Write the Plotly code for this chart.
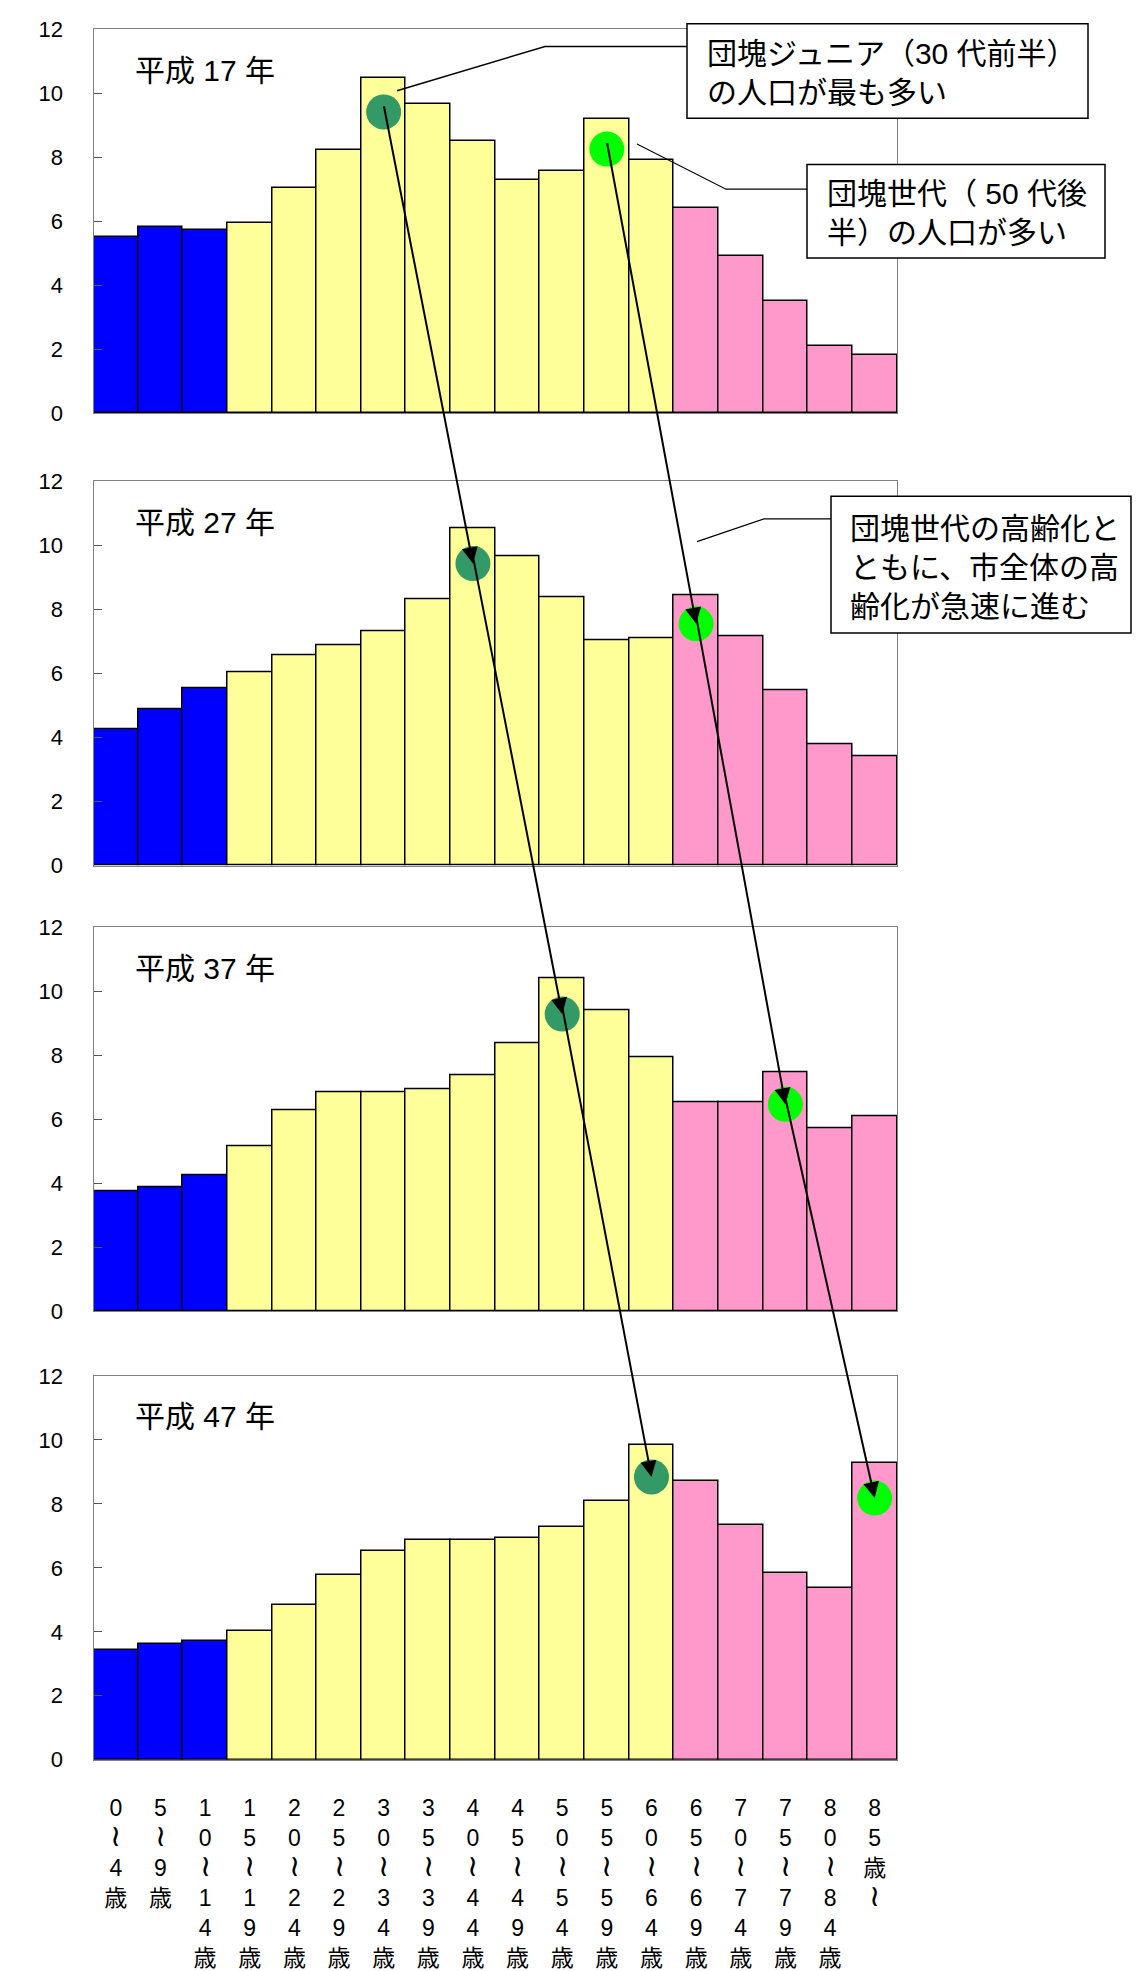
import plotly.graph_objects as go

# ---------------- data ----------------
ages = ["0～4歳", "5～9歳", "10～14歳", "15～19歳", "20～24歳", "25～29歳",
        "30～34歳", "35～39歳", "40～44歳", "45～49歳", "50～54歳", "55～59歳",
        "60～64歳", "65～69歳", "70～74歳", "75～79歳", "80～84歳", "85歳～"]
years = ["平成 17 年", "平成 27 年", "平成 37 年", "平成 47 年"]
h17 = [5.52, 5.82, 5.72, 5.93, 7.05, 8.21, 10.47, 9.66, 8.50, 7.28, 7.57, 9.19, 7.92, 6.42, 4.90, 3.50, 2.10, 1.81]
h27 = [4.26, 4.89, 5.53, 6.05, 6.58, 6.87, 7.32, 8.33, 10.53, 9.66, 8.38, 7.04, 7.11, 8.44, 7.17, 5.47, 3.78, 3.43]
h37 = [3.76, 3.87, 4.26, 5.15, 6.27, 6.85, 6.85, 6.93, 7.36, 8.36, 10.41, 9.41, 7.94, 6.54, 6.54, 7.47, 5.73, 6.08]
h47 = [3.44, 3.62, 3.73, 4.02, 4.84, 5.78, 6.53, 6.87, 6.87, 6.93, 7.28, 8.09, 9.85, 8.73, 7.34, 5.84, 5.37, 9.27]
series = [h17, h27, h37, h47]
age_group = ["young"] * 3 + ["working"] * 10 + ["old"] * 5
group_colors = {"young": "#0000FF", "working": "#FFFF99", "old": "#FF99CC"}

# highlighted cohorts (index of age class, value of marker) per panel
junior_idx = [6, 8, 10, 12]
junior_val = [9.41, 9.43, 9.29, 8.84]
dankai_idx = [11, 13, 15, 17]
dankai_val = [8.25, 7.55, 6.47, 8.18]

callout1 = "団塊ジュニア（30 代前半）<br>の人口が最も多い"
callout2 = "団塊世代（ 50 代後<br>半）の人口が多い"
callout3 = "団塊世代の高齢化と<br>ともに、市全体の高<br>齢化が急速に進む"

# ---------------- geometry ----------------
W, H = 1140, 1971
X_LEFT, X_RIGHT = 93.5, 897.0
PANEL_TOP = [17.3, 476.7, 930.0, 1385.7]
PANEL_BOT = [407.7, 867.3, 1320.0, 1775.7]
YMAX = 12
N = len(ages)

FONT = "Liberation Sans, Arial, 'Noto Sans CJK JP', sans-serif"


def px_x(i):
    return X_LEFT + (i + 0.5) * (X_RIGHT - X_LEFT) / N


def px_y(p, v):
    return PANEL_BOT[p] - v / YMAX * (PANEL_BOT[p] - PANEL_TOP[p])


def fx(px):
    return px / W


def fy(py):
    return 1 - py / H


def vertical(label):
    parts = []
    for ch in label:
        if ch == "～":
            parts.append('<span style="font-size:30px">≀</span>')
        else:
            parts.append(ch)
    return "<br>".join(parts)


colors = [group_colors[g] for g in age_group]
xs = list(range(N))

fig = go.Figure()
layout = dict(
    width=W, height=H,
    margin=dict(l=0, r=0, t=0, b=0),
    paper_bgcolor="white", plot_bgcolor="white",
    showlegend=False,
    bargap=0,
    font=dict(family=FONT, color="black"),
)

annotations = []
shapes = []

for p in range(4):
    sfx = "" if p == 0 else str(p + 1)
    xa, ya = "x" + sfx, "y" + sfx
    fig.add_trace(go.Bar(
        x=xs, y=series[p], width=1,
        marker=dict(color=colors, line=dict(color="black", width=1.5)),
        xaxis=xa, yaxis=ya, hoverinfo="skip",
    ))
    fig.add_trace(go.Scatter(
        x=[junior_idx[p], dankai_idx[p]], y=[junior_val[p], dankai_val[p]],
        mode="markers",
        marker=dict(size=35, color=["#339966", "#00FF00"], line=dict(width=0)),
        xaxis=xa, yaxis=ya, hoverinfo="skip",
    ))
    layout["xaxis" + sfx] = dict(
        domain=[fx(X_LEFT), fx(X_RIGHT)], anchor=ya, range=[-0.5, N - 0.5],
        showgrid=False, zeroline=False, showline=True, mirror=True,
        linecolor="#808080", linewidth=1, ticks="",
        tickvals=xs, ticktext=[vertical(a) for a in ages],
        showticklabels=(p == 3), tickfont=dict(size=23, family=FONT),
        ticklabelstandoff=28,
    )
    layout["yaxis" + sfx] = dict(
        domain=[fy(PANEL_BOT[p]), fy(PANEL_TOP[p])], anchor=xa, range=[0, YMAX],
        tickvals=list(range(0, YMAX + 1, 2)),
        showgrid=False, zeroline=False, showline=True, mirror=True,
        linecolor="#808080", linewidth=1, ticks="inside", ticklen=8,
        tickcolor="#555555", tickfont=dict(size=22, family=FONT),
        ticklabelstandoff=25,
    )
    annotations.append(dict(
        text=years[p], xref=xa + " domain", yref=ya + " domain",
        x=(133 - X_LEFT) / (X_RIGHT - X_LEFT), y=0.893,
        xanchor="left", yanchor="middle", showarrow=False,
        font=dict(size=30, family=FONT),
    ))
    if p > 0:
        for idx, val in ((junior_idx, junior_val), (dankai_idx, dankai_val)):
            hx, hy = px_x(idx[p]), px_y(p, val[p])
            tx, ty = px_x(idx[p - 1]), px_y(p - 1, val[p - 1])
            annotations.append(dict(
                text="", xref=xa, yref=ya, x=idx[p], y=val[p],
                showarrow=True, axref="pixel", ayref="pixel",
                ax=tx - hx, ay=ty - hy,
                arrowhead=2, arrowsize=1.6, arrowwidth=2, arrowcolor="black",
                standoff=0, startstandoff=0,
            ))

# callout boxes (pixel boxes -> paper)
boxes = [
    (687, 12, 1088, 108, 705, 62, callout1),
    (807, 155, 1105, 250, 825, 204, callout2),
    (831, 492, 1131, 631, 848, 564, callout3),
]
leaders = [
    ([(687, 35), (545, 35), (397, 80)], 1.5),
    ([(807, 180), (726, 180), (637, 134)], 1.1),
    ([(831, 515), (764, 515), (697, 538)], 1.3),
]
for pts, lw in leaders:
    path = "M " + " L ".join(f"{fx(x):.5f},{fy(y):.5f}" for x, y in pts)
    shapes.append(dict(type="path", xref="paper", yref="paper", path=path,
                       line=dict(color="black", width=lw), layer="above"))
for x0, y0, x1, y1, tx, ty, txt in boxes:
    shapes.append(dict(type="rect", xref="paper", yref="paper",
                       x0=fx(x0), x1=fx(x1), y0=fy(y1), y1=fy(y0),
                       fillcolor="white", line=dict(color="black", width=1.5),
                       layer="above"))
    annotations.append(dict(
        text=txt, xref="paper", yref="paper", x=fx(tx), y=fy(ty),
        xanchor="left", yanchor="middle", align="left", showarrow=False,
        font=dict(size=30, family=FONT),
    ))

layout["annotations"] = annotations
layout["shapes"] = shapes
fig.update_layout(**layout)
fig.write_html("out.html")
